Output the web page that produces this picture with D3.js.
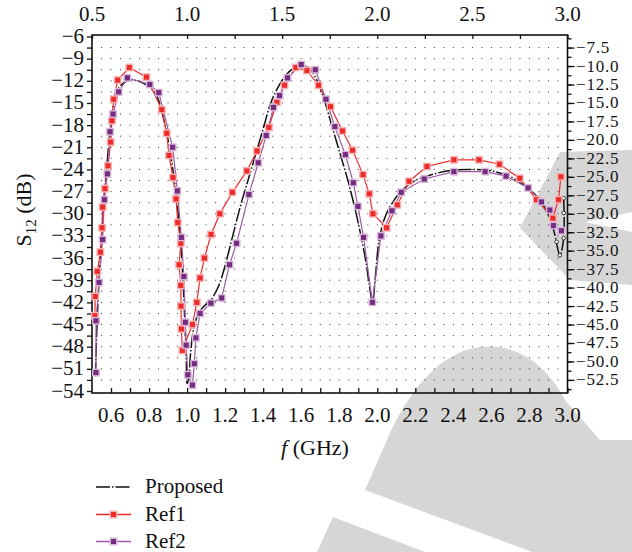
<!DOCTYPE html>
<html>
<meta charset="utf-8">
<script src="https://cdn.jsdelivr.net/npm/d3@7"></script>
<style>
  body { margin: 0; background: #fff; }
  text { font-family: "Liberation Serif", "DejaVu Serif", serif; fill: #111; }
</style>
<body>
<div id="plot_area"></div>
<script>

// Proposed (black dash-dot)
var freqProposed = [0.518, 0.525, 0.535, 0.548, 0.56, 0.575, 0.59, 0.605, 0.62, 0.64, 0.665, 0.7, 0.75, 0.8, 0.84, 0.87, 0.9, 0.925, 0.945, 0.96, 0.972, 0.982, 0.99, 0.996, 1.0, 1.008, 1.018, 1.035, 1.06, 1.09, 1.13, 1.17, 1.2, 1.24, 1.28, 1.32, 1.36, 1.4, 1.44, 1.48, 1.52, 1.56, 1.6, 1.64, 1.68, 1.72, 1.76, 1.8, 1.84, 1.88, 1.91, 1.94, 1.96, 1.975, 1.99, 2.01, 2.04, 2.08, 2.13, 2.2, 2.3, 2.4, 2.5, 2.6, 2.7, 2.8, 2.85, 2.9, 2.93, 2.96, 2.98, 2.98];
var sProposed = [-52, -46, -40, -34, -29, -24.5, -20, -16.5, -14.3, -13, -12.3, -11.9, -12.1, -12.8, -14, -16.5, -20, -24, -28, -32, -36, -41, -46, -50, -53, -52.5, -49, -45.5, -43.5, -42.5, -41.5, -39.5, -37, -33, -29, -25.5, -22, -18.5, -15, -12.8, -11.2, -10.3, -10.0, -10.3, -11.8, -14.5, -18, -21.5, -25, -29, -32.5, -36.5, -40, -42, -38.5, -33.5, -30.5, -28.5, -26.8, -25.5, -24.6, -24.1, -24.0, -24.2, -25.0, -26.7, -28, -30.2, -32.5, -35.6, -33.3, -27.9];
// small open circles visible at the end of the proposed curve
var freqProposedDots = [2.943, 2.96, 2.98, 2.98, 2.98];
var sProposedDots = [-33.8, -35.6, -33.3, -29.9, -27.9];

// Ref1 (red squares)
var freqRef1 = [0.515, 0.517, 0.528, 0.544, 0.553, 0.556, 0.568, 0.584, 0.598, 0.605, 0.614, 0.635, 0.696, 0.786, 0.867, 0.893, 0.905, 0.926, 0.942, 0.951, 0.967, 0.958, 0.967, 0.968, 0.97, 0.975, 1.028, 1.051, 1.068, 1.091, 1.126, 1.172, 1.238, 1.314, 1.368, 1.43, 1.472, 1.512, 1.572, 1.63, 1.691, 1.754, 1.817, 1.87, 1.925, 1.958, 1.977, 2.049, 2.105, 2.167, 2.261, 2.403, 2.535, 2.642, 2.749, 2.837, 2.923, 2.953, 2.965];
var sRef1 = [-43.8, -41.2, -37.8, -35.2, -31.9, -29.1, -26.6, -23.5, -20.3, -17.4, -14.5, -11.9, -10.2, -11.5, -15.9, -19.1, -22.1, -25.1, -28.0, -31.2, -34.0, -36.9, -39.7, -42.5, -45.6, -48.5, -45.0, -42.0, -38.7, -36.0, -32.8, -30.0, -27.1, -24.2, -21.5, -18.3, -14.9, -12.6, -10.2, -10.6, -12.6, -15.5, -18.8, -21.4, -24.7, -27.3, -30.0, -31.9, -28.8, -25.6, -23.6, -22.7, -22.7, -23.3, -25.2, -28.1, -30.6, -28.1, -25.0];

// Ref2 (purple squares)
var freqRef2 = [0.521, 0.521, 0.537, 0.556, 0.565, 0.581, 0.595, 0.611, 0.640, 0.686, 0.804, 0.851, 0.924, 0.949, 0.97, 0.983, 0.991, 0.995, 1.004, 1.028, 1.038, 1.046, 1.068, 1.125, 1.182, 1.223, 1.26, 1.325, 1.374, 1.416, 1.454, 1.486, 1.528, 1.60, 1.674, 1.73, 1.777, 1.832, 1.874, 1.898, 1.928, 1.974, 2.019, 2.077, 2.126, 2.247, 2.403, 2.567, 2.677, 2.793, 2.863, 2.907, 2.926, 2.968];
var sRef2 = [-51.5, -44.5, -39.3, -33.5, -28.1, -24.6, -18.9, -16.5, -13.5, -11.6, -12.5, -13.6, -21.0, -26.9, -33.2, -38.5, -44.7, -47.8, -51.8, -53.2, -50.3, -46.8, -43.5, -42.1, -41.4, -36.9, -34.0, -27.4, -23.1, -19.4, -15.6, -14.0, -11.6, -9.8, -10.5, -14.5, -18.2, -22.0, -25.8, -29.0, -33.2, -42.0, -33.0, -29.6, -27.1, -25.3, -24.3, -24.3, -24.9, -26.5, -28.4, -29.5, -31.6, -32.3];

var topTicks = [0.5, 1.0, 1.5, 2.0, 2.5, 3.0];
var bottomTicks = [0.6, 0.8, 1.0, 1.2, 1.4, 1.6, 1.8, 2.0, 2.2, 2.4, 2.6, 2.8, 3.0];
var leftTicks = d3.range(-6, -54.1, -3);
var rightTicks = d3.range(-7.5, -52.6, -2.5);

var seriesNames = ["Proposed", "Ref1", "Ref2"];

var W = 632, H = 552;
var plot = {left: 92, right: 567.5, top: 35, bottom: 393};

var svg = d3.select("#plot_area")
  .append("svg")
    .attr("width", W)
    .attr("height", H);

// watermark shapes in the lower right corner
var wm = svg.append("g").attr("fill", "#d6d6d6");
wm.append("path").attr("d", "M520,228 L560,152 L632,150 L632,212 L585,222 L632,232 L632,285 L570,280 Z");
wm.append("path").attr("d", "M365,490 L390,433 C410,390 440,352 480,347 C520,342 550,370 565,400 L600,440 L632,440 L632,552 L532,552 Z");
wm.append("path").attr("d", "M317,552 L333,517 L425,552 Z");

var x = d3.scaleLinear().domain([0.5, 3.0]).range([plot.left, plot.right]);
var y = d3.scaleLinear().domain([-6, -54]).range([36.5, 391]);

// dotted grid
var grid = svg.append("g").attr("fill", "#333");
var gx = d3.range(0.55, 2.99, 0.05);
var gy = d3.range(-7.5, -53.9, -1.5);
gx.forEach(function(f) {
  gy.forEach(function(v) {
    grid.append("rect").attr("x", x(f) - 0.5).attr("y", y(v) - 0.5).attr("width", 1).attr("height", 1);
  });
});

// frame + axes
var fontTick = 21;
svg.append("g")
  .attr("transform", "translate(0," + plot.top + ")")
  .call(d3.axisTop(x).tickValues(d3.range(0.5, 3.01, 0.25)).tickSize(-4).tickFormat(""))
  .call(function(g) { g.select(".domain").remove(); });
svg.append("g")
  .attr("transform", "translate(0," + plot.bottom + ")")
  .call(d3.axisBottom(x).tickValues(d3.range(0.6, 3.01, 0.1)).tickSize(-5).tickFormat(""))
  .call(function(g) { g.select(".domain").remove(); });
svg.append("g")
  .attr("transform", "translate(" + plot.left + ",0)")
  .call(d3.axisLeft(y).tickValues(d3.range(-6, -54.1, -1.5)).tickSize(5).tickFormat(""))
  .call(function(g) { g.select(".domain").remove(); });
svg.append("g")
  .attr("transform", "translate(" + plot.right + ",0)")
  .call(d3.axisRight(y).tickValues(d3.range(-6.25, -53.8, -1.25)).tickSize(4).tickFormat(""))
  .call(function(g) { g.select(".domain").remove(); });
svg.append("g")
  .attr("transform", "translate(" + plot.right + ",0)")
  .call(d3.axisRight(y).tickValues(rightTicks).tickSize(7).tickFormat(""))
  .call(function(g) { g.select(".domain").remove(); });
svg.selectAll(".tick line").attr("stroke", "#111").attr("stroke-width", 1.3);

svg.append("rect")
  .attr("x", plot.left).attr("y", plot.top)
  .attr("width", plot.right - plot.left).attr("height", plot.bottom - plot.top)
  .attr("fill", "none").attr("stroke", "#111").attr("stroke-width", 1.6);

var fmtMinus = function(v, d) { return (v < 0 ? "\u2212" : "") + Math.abs(v).toFixed(d); };

svg.append("g").selectAll("text").data(topTicks).enter().append("text")
  .attr("x", function(d) { return x(d); }).attr("y", 21)
  .attr("text-anchor", "middle").style("font-size", fontTick + "px")
  .text(function(d) { return d.toFixed(1); });
svg.append("g").selectAll("text").data(bottomTicks).enter().append("text")
  .attr("x", function(d) { return x(d); }).attr("y", 422)
  .attr("text-anchor", "middle").style("font-size", fontTick + "px")
  .text(function(d) { return d.toFixed(1); });
svg.append("g").selectAll("text").data(leftTicks).enter().append("text")
  .attr("x", 84).attr("y", function(d) { return y(d) + 6.5; })
  .attr("text-anchor", "end").style("font-size", fontTick + "px")
  .text(function(d) { return fmtMinus(d, 0); });
svg.append("g").selectAll("text").data(rightTicks).enter().append("text")
  .attr("x", 576).attr("y", function(d) { return y(d) + 5.5; })
  .attr("text-anchor", "start").style("font-size", "17px")
  .style("letter-spacing", "0.8px")
  .text(function(d) { return fmtMinus(d, 1); });

// axis titles
var yt = svg.append("text")
  .attr("transform", "translate(31,210) rotate(-90)")
  .attr("text-anchor", "middle").style("font-size", "22px");
yt.append("tspan").text("S");
yt.append("tspan").attr("dy", 5).style("font-size", "15px").text("12");
yt.append("tspan").attr("dy", -5).text(" (dB)");

var xt = svg.append("text")
  .attr("x", 315).attr("y", 455)
  .attr("text-anchor", "middle").style("font-size", "22px");
xt.append("tspan").style("font-style", "italic").text("f");
xt.append("tspan").text(" (GHz)");

// series
var line = d3.line()
  .x(function(d) { return x(d[0]); })
  .y(function(d) { return y(d[1]); });
var lineSmooth = d3.line()
  .x(function(d) { return x(d[0]); })
  .y(function(d) { return y(d[1]); })
  .curve(d3.curveCatmullRom.alpha(0.5));

var zip = function(a, b) { return a.map(function(v, i) { return [v, b[i]]; }); };
var dataP = zip(freqProposed, sProposed);
var data1 = zip(freqRef1, sRef1);
var data2 = zip(freqRef2, sRef2);

var cRed = "#ee2b2b", cRedEdge = "#f7b3b3";
var cPur = "#742c7e", cPurLine = "#9a5ba3", cPurEdge = "#d9b8dc";
var ms = 6.5;

svg.append("path").datum(dataP)
  .attr("d", lineSmooth).attr("fill", "none")
  .attr("stroke", "#111").attr("stroke-width", 1.5)
  .attr("stroke-dasharray", "14,2,1.5,2");

svg.append("path").datum(data1)
  .attr("d", line).attr("fill", "none")
  .attr("stroke", cRed).attr("stroke-width", 1.2);
svg.append("path").datum(data2)
  .attr("d", line).attr("fill", "none")
  .attr("stroke", cPurLine).attr("stroke-width", 1.2);

svg.append("g").selectAll("circle").data(zip(freqProposedDots, sProposedDots)).enter()
  .append("circle")
    .attr("cx", function(d) { return x(d[0]); })
    .attr("cy", function(d) { return y(d[1]); })
    .attr("r", 1.8).attr("fill", "#fff").attr("stroke", "#111").attr("stroke-width", 0.8);

svg.append("g").selectAll("rect").data(data1).enter()
  .append("rect")
    .attr("x", function(d) { return x(d[0]) - ms / 2; })
    .attr("y", function(d) { return y(d[1]) - ms / 2; })
    .attr("width", ms).attr("height", ms)
    .attr("fill", cRed).attr("stroke", cRedEdge).attr("stroke-width", 1.4);
svg.append("g").selectAll("rect").data(data2).enter()
  .append("rect")
    .attr("x", function(d) { return x(d[0]) - ms / 2; })
    .attr("y", function(d) { return y(d[1]) - ms / 2; })
    .attr("width", ms).attr("height", ms)
    .attr("fill", cPur).attr("stroke", cPurEdge).attr("stroke-width", 1.4);

// legend
var legendY = [487, 514.5, 541.5];
var lg = svg.append("g");
seriesNames.forEach(function(name, i) {
  var ly = legendY[i];
  var ln = lg.append("line")
    .attr("x1", 96).attr("x2", 131).attr("y1", ly).attr("y2", ly)
    .attr("stroke-width", 1.4);
  if (i === 0) {
    ln.attr("stroke", "#111").attr("stroke-dasharray", "14,2,1.5,2");
  } else if (i === 1) {
    ln.attr("stroke", cRed);
    lg.append("rect").attr("x", 113.5 - ms / 2).attr("y", ly - ms / 2)
      .attr("width", ms).attr("height", ms)
      .attr("fill", cRed).attr("stroke", cRedEdge).attr("stroke-width", 1.4);
  } else {
    ln.attr("stroke", cPurLine);
    lg.append("rect").attr("x", 113.5 - ms / 2).attr("y", ly - ms / 2)
      .attr("width", ms).attr("height", ms)
      .attr("fill", cPur).attr("stroke", cPurEdge).attr("stroke-width", 1.4);
  }
  lg.append("text").attr("x", 145).attr("y", ly + 6)
    .style("font-size", "21px").text(name);
});

</script>
</body>
</html>
